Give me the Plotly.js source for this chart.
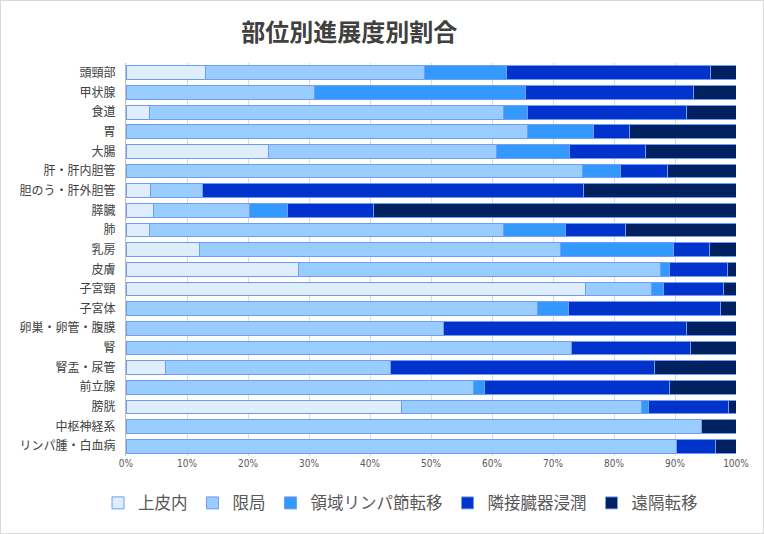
<!DOCTYPE html>
<html>
<head>
<meta charset="utf-8">
<script src="https://cdn.plot.ly/plotly-3.0.1.min.js"></script>
<style>
  html, body { margin: 0; padding: 0; background: #fff; }
  #chart { width: 762px; height: 532px; border: 1px solid #d9d9d9; }
</style>
</head>
<body>
<div id="chart"></div>
<script>
const sites = ['頭頸部', '甲状腺', '食道', '胃', '大腸', '肝・肝内胆管', '胆のう・肝外胆管', '膵臓', '肺', '乳房',
  '皮膚', '子宮頸', '子宮体', '卵巣・卵管・腹膜', '腎', '腎盂・尿管', '前立腺', '膀胱', '中枢神経系', 'リンパ腫・白血病']

const seriesNames = ['上皮内', '限局', '領域リンパ節転移', '隣接臓器浸潤', '遠隔転移']

// percent of each site
const inSitu   = [13.1, 0,    3.8,  0,    23.4, 0,    4.0,  4.5,  3.9,  12.0, 28.3, 75.4, 0,    0,    0,    6.5,  0,    45.1, 0,    0]
const localized = [35.8, 30.9, 58.1, 65.8, 37.3, 74.9, 8.5,  15.7, 58.0, 59.2, 59.4, 10.7, 67.4, 52.0, 73.1, 36.8, 56.9, 39.4, 94.4, 90.3]
const regional = [13.4, 34.6, 4.0,  10.9, 12.0, 6.2,  0,    6.2,  10.1, 18.5, 1.4,  2.0,  5.1,  0,    0,    0,    1.8,  1.2,  0,    0]
const adjacent = [33.5, 27.6, 26.0, 5.9,  12.5, 7.6,  62.5, 14.1, 9.9,  6.0,  9.5,  9.9,  25.0, 39.9, 19.5, 43.3, 30.4, 13.0, 0,    6.4]
const distant  = [4.2,  6.9,  8.1,  17.4, 14.8, 11.3, 25.0, 59.5, 18.1, 4.3,  1.4,  2.0,  2.5,  8.1,  7.4,  13.4, 10.9, 1.3,  5.6,  3.3]

const colors = ['#dfeefd', '#99ccff', '#3399ff', '#0033cc', '#002060']
const values = [inSitu, localized, regional, adjacent, distant]

const font = '"Noto Sans CJK JP", "Noto Sans", sans-serif'

let data = seriesNames.map((name, i) => ({
  type: 'bar',
  orientation: 'h',
  name: name,
  y: sites,
  x: values[i],
  marker: {
    color: colors[i],
    line: { color: '#6f9cf6', width: 1 },
  },
  hoverinfo: 'name+x',
}))

let layout = {
  width: 762,
  height: 532,
  barmode: 'stack',
  barnorm: 'percent',
  bargap: 0.3,
  paper_bgcolor: '#fff',
  plot_bgcolor: '#fff',
  margin: { l: 125, r: 27, t: 62, b: 65 },
  font: { family: font, color: '#404040' },
  title: {
    text: '<b>部位別進展度別割合</b>',
    font: { family: font, size: 24, color: '#404040' },
    x: 0.457,
    xanchor: 'center',
    y: 0.94,
    yanchor: 'middle',
  },
  xaxis: {
    range: [0, 100],
    dtick: 10,
    ticksuffix: '%',
    showgrid: true,
    gridcolor: '#d9d9d9',
    zeroline: false,
    showline: false,
    tickfont: { family: 'DejaVu Sans Condensed, Liberation Sans Narrow, sans-serif', size: 10, color: '#595959' },
    ticklen: 0,
  },
  yaxis: {
    autorange: 'reversed',
    showline: true,
    linecolor: '#bfbfbf',
    linewidth: 1,
    ticks: '',
    ticklabelstandoff: 7,
    tickfont: { family: font, size: 12, color: '#404040' },
  },
  legend: {
    orientation: 'h',
    x: 0.45,
    xanchor: 'center',
    y: -0.12,
    yanchor: 'middle',
    font: { family: font, size: 16.5, color: '#595959' },
    traceorder: 'normal',
    itemwidth: 30,
  },
}

Plotly.newPlot('chart', data, layout, { displayModeBar: false })
</script>
</body>
</html>
